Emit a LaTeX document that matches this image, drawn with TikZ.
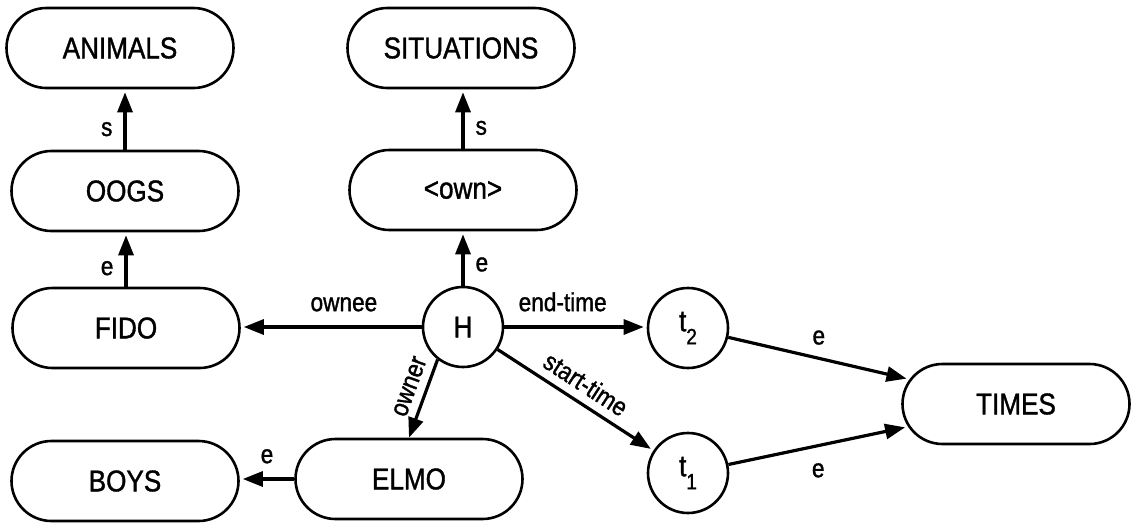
\documentclass[tikz,border=0pt]{standalone}
\usepackage{fontspec}
\setmainfont{Liberation Sans}[FakeStretch=0.87,FakeBold=1.2]
\usetikzlibrary{shapes.misc,arrows.meta}
\begin{document}
\begin{tikzpicture}[x=1pt,y=-1pt,
  box/.style={rounded rectangle, draw, line width=2.6pt, minimum width=227pt, minimum height=80pt, inner sep=0pt, font=\fontsize{30}{30}\selectfont},
  circ/.style={circle, draw, line width=2.6pt, minimum size=80pt, inner sep=0pt, font=\fontsize{30}{30}\selectfont},
  arr/.style={line width=3.2pt, -{Triangle[length=20pt,width=15pt]}, shorten >=3pt},
  lab/.style={font=\fontsize{26}{26}\selectfont, inner sep=0pt}]
\path[use as bounding box] (0,0) rectangle (1135,523);

\node[box] (animals) at (120,48) {ANIMALS};
\node[box] (situations) at (461,48) {SITUATIONS};
\node[box] (dogs) at (125,191) {OOGS};
\node[box] (own) at (463,190) {\textless own\textgreater};
\node[box] (fido) at (126,328) {FIDO};
\node[circ] (H) at (463,327) {H};
\node[circ] (t2) at (688,328) {t\raisebox{-13pt}{\fontsize{22}{22}\selectfont 2}};
\node[circ] (t1) at (688,473) {t\raisebox{-13pt}{\fontsize{22}{22}\selectfont 1}};
\node[box] (times) at (1016,404) {TIMES};
\node[box] (elmo) at (409,479) {ELMO};
\node[box] (boys) at (125,481) {BOYS};

\draw[arr] (dogs.north) -- node[lab, pos=0.34, left=11pt] {s} (dogs.north |- animals.south);
\draw[arr] (fido.north) -- node[lab, pos=0.34, left=11pt] {e} (fido.north |- dogs.south);
\draw[arr] (own.north) -- node[lab, pos=0.35, right=11pt] {s} (own.north |- situations.south);
\draw[arr] (H.north) -- node[lab, pos=0.39, right=11pt] {e} (H.north |- own.south);
\draw[arr] (H.west) -- node[lab, pos=0.43, above=14pt] {ownee} (H.west -| fido.east);
\draw[arr] (H.east) -- node[lab, pos=0.41, above=14pt] {end-time} (H.east -| t2.west);
\draw[arr] (H) -- node[lab, sloped, above=8pt] {start-time} (t1);
\draw[arr, shorten >=0pt] (H.232) -- node[lab, sloped, pos=0.42, above=8pt] {owner} (elmo.north);
\draw[arr] (elmo.west) -- node[lab, above=14pt] {e} (elmo.west -| boys.east);
\draw[arr] (t2) -- node[lab, above=12pt] {e} (times);
\draw[arr] (t1) -- node[lab, below=16pt] {e} (times);
\end{tikzpicture}
\end{document}
